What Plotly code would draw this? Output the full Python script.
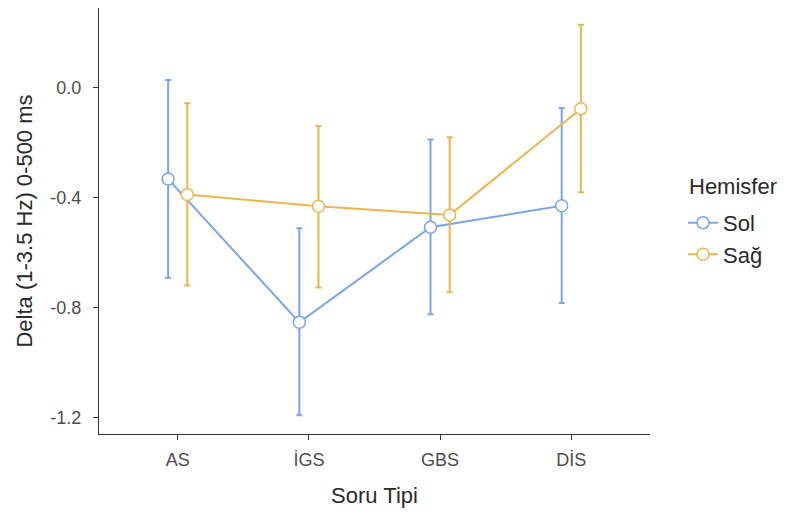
import plotly.graph_objects as go

categories = ["AS", "İGS", "GBS", "DİS"]
groups = ["Sol", "Sağ"]

sol_mean = [-0.332, -0.853, -0.507, -0.429]
sol_low = [-0.691, -1.191, -0.824, -0.783]
sol_high = [0.028, -0.511, -0.188, -0.074]

sag_mean = [-0.388, -0.431, -0.463, -0.076]
sag_low = [-0.719, -0.726, -0.744, -0.380]
sag_high = [-0.056, -0.139, -0.180, 0.229]

colors = {"Sol": "#79A6EA", "Sağ": "#EBB54E"}
dodge = 0.073

series = {
    "Sol": (sol_mean, sol_low, sol_high, -dodge),
    "Sağ": (sag_mean, sag_low, sag_high, dodge),
}

fig = go.Figure()
for name in groups:
    mean, low, high, off = series[name]
    xs = [i + off for i in range(len(categories))]
    fig.add_trace(go.Scatter(
        x=xs, y=mean, name=name, mode="lines+markers",
        line=dict(color=colors[name], width=2),
        marker=dict(size=12, color="white", line=dict(color=colors[name], width=1.5)),
        error_y=dict(type="data", symmetric=False,
                     array=[h - m for h, m in zip(high, mean)],
                     arrayminus=[m - l for m, l in zip(mean, low)],
                     color=colors[name], thickness=2, width=3),
    ))

font_family = "Arial, Liberation Sans, sans-serif"
fig.add_annotation(
    text="Hemisfer", xref="paper", yref="paper", x=1.067, y=0.582,
    xanchor="left", yanchor="middle", showarrow=False,
    font=dict(size=22, color="#2a2a2a"),
)
fig.update_layout(
    width=792, height=516,
    margin=dict(l=91, r=150, t=0, b=90),
    plot_bgcolor="white", paper_bgcolor="white",
    font=dict(family=font_family, color="#222222"),
    legend=dict(
        font=dict(size=22, color="#2a2a2a"),
        x=1.06, y=0.545, xanchor="left", yanchor="top",
        itemwidth=30,
        bgcolor="rgba(0,0,0,0)",
    ),
    xaxis=dict(
        range=[-0.6, 3.6],
        tickvals=list(range(len(categories))), ticktext=categories,
        showline=True, linecolor="#333333", linewidth=1.2,
        ticks="outside", ticklen=5, tickcolor="#333333", tickwidth=1.2,
        tickfont=dict(size=18, color="#4D4D4D"), ticklabelstandoff=4,
        showgrid=False, zeroline=False, automargin=False,
        title=dict(text="Soru Tipi", font=dict(size=22, color="#2a2a2a"), standoff=18),
    ),
    yaxis=dict(
        range=[-1.259, 0.290],
        tickvals=[0.0, -0.4, -0.8, -1.2], ticktext=["0.0", "-0.4", "-0.8", "-1.2"],
        showline=True, linecolor="#333333", linewidth=1.2,
        ticks="outside", ticklen=5, tickcolor="#333333", tickwidth=1.2,
        tickfont=dict(size=18, color="#4D4D4D"), ticklabelstandoff=8,
        showgrid=False, zeroline=False, automargin=False,
        title=dict(text="Delta (1-3.5 Hz) 0-500 ms", font=dict(size=22, color="#2a2a2a"), standoff=11),
    ),
)

fig.write_html("out.html")
